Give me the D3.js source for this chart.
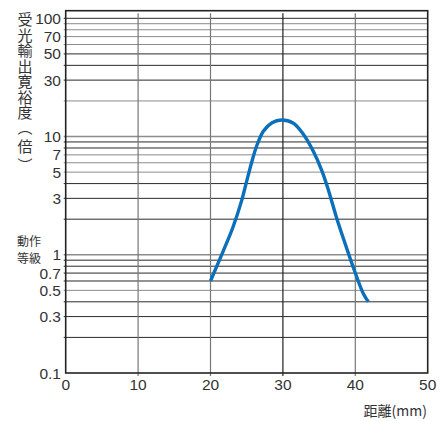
<!doctype html>
<html>
<head>
<meta charset="utf-8">
<script src="https://d3js.org/d3.v7.min.js"></script>
<style>
  body { margin: 0; background: #fff; }
  svg { display: block; }
</style>
</head>
<body>
<div id="chart"></div>
<script>
// distance (mm) and margin (times)
var distance = [20, 21.8, 23.1, 24.3, 25.0, 25.7, 26.4, 27.3, 28.5, 29.8, 31.4, 32.8, 34.2, 35.4, 36.3, 37.4, 38.6, 39.7, 41.1, 41.8];
var margin   = [0.6, 1.09, 1.71, 2.87, 4.2, 6.1, 8.4, 11.1, 13.1, 13.8, 13.0, 10.5, 7.5, 5.1, 3.5, 2.07, 1.24, 0.79, 0.47, 0.4];

var xTicks = [0, 10, 20, 30, 40, 50];
var yTicks = [0.1, 0.3, 0.5, 0.7, 1, 3, 5, 7, 10, 30, 50, 70, 100];
var yGrid = [0.2, 0.3, 0.4, 0.5, 0.6, 0.7, 0.8, 0.9, 1, 2, 3, 4, 5, 6, 7, 8, 9, 10, 20, 30, 40, 50, 60, 70, 80, 90, 100];
var xGrid = [10, 20, 30, 40];
var yTitle = "受光輸出寛裕度︵倍︶";

var W = 440, H = 421;
var L = 65.7, R = 427.7, T = 10.7, B = 373;

var svg = d3.select("#chart").append("svg")
  .attr("width", W).attr("height", H);

var x = d3.scaleLinear().domain([0, 50]).range([L, R]);
var y = d3.scaleLog().domain([0.1, 100]).range([B, 18.3]);

// lighter grid lines as seen in the print
var light = [1, 10, 0.5, 20, 90, 80, 70, 60, 7, 6, 5];

svg.selectAll(".hgrid").data(yGrid).enter().append("line")
  .attr("class", "hgrid")
  .attr("x1", L - 2).attr("x2", R)
  .attr("y1", function(d) { return y(d); })
  .attr("y2", function(d) { return y(d); })
  .style("stroke", function(d) { return light.indexOf(d) >= 0 ? "#8c8c8c" : "#2a2a2a"; })
  .style("stroke-width", function(d) { return (d === 1 || d === 10) ? 1.6 : 1; });

svg.selectAll(".vgrid").data(xGrid).enter().append("line")
  .attr("class", "vgrid")
  .attr("x1", function(d) { return x(d); })
  .attr("x2", function(d) { return x(d); })
  .attr("y1", 13.3).attr("y2", B + 3)
  .style("stroke", function(d) { return d === 30 ? "#222" : "#777"; })
  .style("stroke-width", 1.2);

svg.append("rect")
  .attr("x", L).attr("y", T)
  .attr("width", R - L).attr("height", B - T)
  .style("fill", "none").style("stroke", "#222").style("stroke-width", 1.6);

// curve
var line = d3.line()
  .x(function(d, i) { return x(distance[i]); })
  .y(function(d, i) { return y(margin[i]); })
  .curve(d3.curveCatmullRom);

svg.append("path")
  .datum(margin)
  .attr("d", line)
  .style("fill", "none")
  .style("stroke", "#0b70b9")
  .style("stroke-width", 3.4)
  .style("stroke-linecap", "butt");

// tick labels
svg.selectAll(".ylab").data(yTicks).enter().append("text")
  .attr("x", 61)
  .attr("y", function(d) { return y(d); })
  .attr("dy", "0.36em")
  .attr("text-anchor", "end")
  .style("font-family", "'Liberation Sans', Arial, sans-serif")
  .style("font-size", "15.5px")
  .style("fill", "#333")
  .text(function(d) { return d; });

svg.selectAll(".xlab").data(xTicks).enter().append("text")
  .attr("x", function(d) { return x(d); })
  .attr("y", 390)
  .attr("text-anchor", "middle")
  .style("font-family", "'Liberation Sans', Arial, sans-serif")
  .style("font-size", "15.5px")
  .style("fill", "#333")
  .text(function(d) { return d; });

// vertical title: one text, each glyph placed below the previous one
var chars = Array.from(yTitle);
var ys = [], cy = 20;
chars.forEach(function(c) {
  if (c === "︵") cy -= 1;
  ys.push(cy + 5.4);
  cy += (c === "︵") ? 19 : (c === "倍" ? 19 : 15.5);
});
svg.append("text")
  .attr("x", chars.map(function() { return 17.5; }).join(" "))
  .attr("y", ys.join(" "))
  .style("font-family", "'Noto Sans CJK JP', sans-serif")
  .style("font-size", "15px")
  .style("fill", "#333")
  .text(yTitle);

svg.append("text")
  .attr("x", 17).attr("y", 246)
  .style("font-family", "'Noto Sans CJK JP', sans-serif")
  .style("font-size", "12px")
  .style("fill", "#333")
  .text("動作");
svg.append("text")
  .attr("x", 17).attr("y", 263)
  .style("font-family", "'Noto Sans CJK JP', sans-serif")
  .style("font-size", "12px")
  .style("fill", "#333")
  .text("等級");

svg.append("text")
  .attr("x", 427).attr("y", 416)
  .attr("text-anchor", "end")
  .style("font-family", "'Noto Sans CJK JP', sans-serif")
  .style("font-size", "14px")
  .style("fill", "#333")
  .text("距離(mm)");
</script>
</body>
</html>
